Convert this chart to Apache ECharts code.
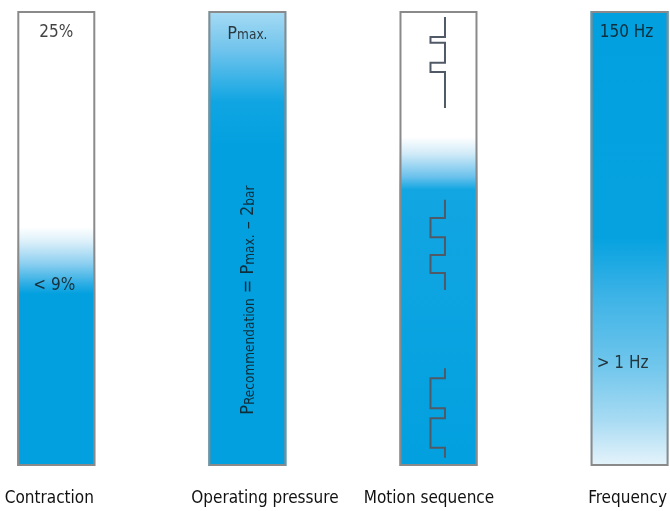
<!DOCTYPE html>
<html>
<head>
<meta charset="utf-8">
<script src="https://cdn.jsdelivr.net/npm/echarts@6/dist/echarts.min.js"></script>
<style>html,body{margin:0;padding:0;background:#fff}#c{width:670px;height:511px}</style>
</head>
<body>
<div id="c"></div>
<script>
// ---- data ----
const categories = ['Contraction', 'Operating pressure', 'Motion sequence', 'Frequency'];
const scaleMax = 100;                       // each column = 100 % of its own range
const fillLevels = [52.5, 100, 72.3, 100];  // filled share of each column (%)
// motion glyphs: [start, notch1 top, notch1 bottom, notch2 top, notch2 bottom, end] (% of column)
const glyphStart = [98.7, 58.5, 21.5];
const glyphNotch1 = [[94.3, 93.0], [54.5, 50.3], [19.3, 12.7]];
const glyphNotch2 = [[88.6, 86.6], [46.4, 42.4], [10.5, 4.0]];
const glyphEnd = [78.7, 38.7, 1.8];
// annotations: [category index, level %, text]
const annotations = [
  [0, 95.2, '25%'],
  [0, 39.6, '< 9%'],
  [1, 95.2, '{n|P}{s|max.}'],
  [1, 36.0, '{n|P}{s|Recommendation}{n| = P}{s|max.}{n| – 2}{s|bar}'],
  [3, 95.2, '150 Hz'],
  [3, 22.6, '> 1 Hz']
];

const FONT = '"Liberation Sans Narrow", "DejaVu Sans Condensed", "Roboto Condensed", sans-serif';
const BLUE = '#02a0df';
const TXT = '#111111';

const fillGradients = [
  [[0, '#ffffff'], [0.06, '#dcf0fa'], [0.15, '#8fd0f0'], [0.24, '#2aace4'], [0.28, BLUE], [1, BLUE]],
  [[0, '#a6dbf4'], [0.08, '#74c5ed'], [0.2, '#10a5e2'], [0.3, BLUE], [1, BLUE]],
  [[0, '#ffffff'], [0.05, '#d2ebf8'], [0.12, '#6cc2ec'], [0.16, '#12a6e2'], [1, BLUE]],
  [[0, BLUE], [0.5, '#06a2e0'], [0.62, '#3ab2e6'], [0.78, '#70c6ec'], [0.9, '#a8dbf3'], [1, '#e6f4fb']]
];
function grad(stops) {
  return new echarts.graphic.LinearGradient(0, 0, 0, 1, stops.map(s => ({offset: s[0], color: s[1]})));
}

const glyphData = glyphStart.map((s, i) => [2, s, glyphNotch1[i][0], glyphNotch1[i][1], glyphNotch2[i][0], glyphNotch2[i][1], glyphEnd[i]]);

const labelOffsets = [[0, 0], [-2, 0], [0, 0], [2, 0], [-3, 0], [-7, 0]];
const axisLabelPads = [[0, 14, 0, 0], [0, 0, 0, 35], [0, 19, 0, 0], [0, 4, 0, 0]];

const rich = {};
categories.forEach((c, i) => { rich['c' + i] = {fontFamily: FONT, fontSize: 17, color: TXT, padding: axisLabelPads[i]}; });

const chart = echarts.init(document.getElementById('c'));
chart.setOption({
  animation: false,
  grid: {left: 56.3, right: 38.3, top: 11, bottom: 45, containLabel: false},
  xAxis: {
    type: 'category',
    data: categories,
    boundaryGap: false,
    axisLine: {show: false}, axisTick: {show: false}, splitLine: {show: false},
    axisLabel: {
      fontFamily: FONT, fontSize: 17, color: TXT, margin: 24, interval: 0,
      formatter: function (v, i) { return '{c' + i + '|' + v + '}'; },
      rich: rich
    }
  },
  yAxis: {type: 'value', min: 0, max: scaleMax, show: false},
  series: [
    {
      type: 'bar', barWidth: 78, barGap: '-100%', silent: true,
      data: categories.map(() => scaleMax),
      itemStyle: {color: '#ffffff'}, z: 1
    },
    {
      type: 'bar', barWidth: 78, barGap: '-100%', silent: true,
      data: fillLevels.map((v, i) => ({value: v, itemStyle: {color: grad(fillGradients[i])}})),
      z: 2
    },
    {
      type: 'bar', barWidth: 78, barGap: '-100%', silent: true,
      data: categories.map(() => scaleMax),
      itemStyle: {color: 'rgba(0,0,0,0)', borderColor: '#8a8a8a', borderWidth: 2}, z: 5
    },
    {
      type: 'custom', silent: true, z: 4,
      data: glyphData,
      renderItem: function (params, api) {
        const cx = api.coord([api.value(0), 0])[0];
        const xr = cx + 6.5, xl = cx - 8;
        const y = k => api.coord([api.value(0), api.value(k)])[1];
        const pts = [
          [xr, y(1)], [xr, y(2)], [xl, y(2)], [xl, y(3)], [xr, y(3)],
          [xr, y(4)], [xl, y(4)], [xl, y(5)], [xr, y(5)], [xr, y(6)]
        ];
        return {type: 'polyline', shape: {points: pts}, style: {stroke: '#505a66', lineWidth: 2, fill: null}};
      }
    },
    {
      type: 'scatter', silent: true, z: 6, symbolSize: 0,
      data: annotations.map((a, i) => ({
        value: [a[0], a[1]],
        label: {
          show: true, position: 'inside', formatter: a[2],
          rotate: i === 3 ? 90 : 0,
          offset: labelOffsets[i],
          fontFamily: FONT, fontSize: 17, color: TXT,
          rich: {
            n: {fontFamily: FONT, fontSize: 18, color: TXT, verticalAlign: 'bottom', lineHeight: 20},
            s: {fontFamily: FONT, fontSize: 13.5, color: TXT, verticalAlign: 'bottom', lineHeight: 18}
          }
        }
      }))
    }
  ]
});
</script>
</body>
</html>
